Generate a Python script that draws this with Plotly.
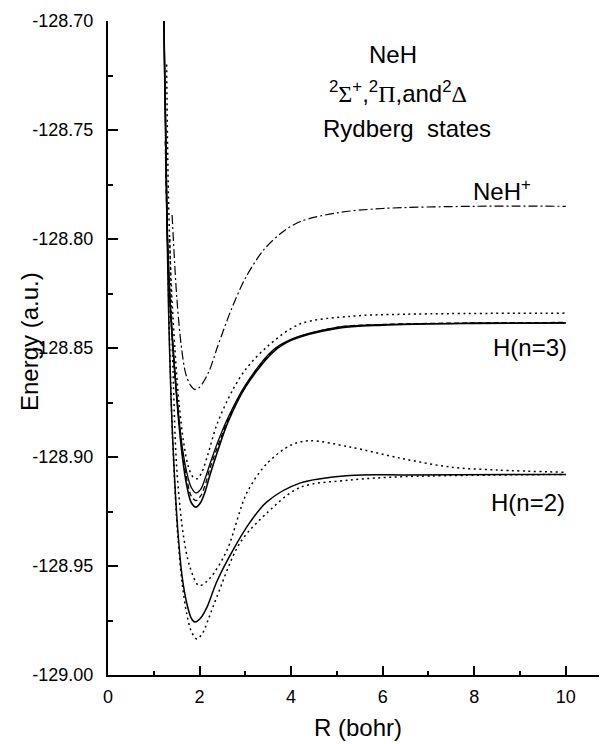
import plotly.graph_objects as go

# ---------------- data ----------------
# NeH+ ion curve (dash-dot)
ion_r = [1.40, 1.50, 1.60, 1.70, 1.80, 1.90, 2.00, 2.20, 2.40, 2.70, 3.00, 3.40, 3.80, 4.20, 5.00, 6.00, 8.00, 10.00]
ion_e = [-128.789, -128.826, -128.849, -128.862, -128.867, -128.869, -128.868, -128.861, -128.849, -128.832,
         -128.818, -128.805, -128.797, -128.792, -128.788, -128.786, -128.785, -128.785]

# States going to H(n=3)
n3_r = [1.22, 1.26, 1.30, 1.36, 1.44, 1.53, 1.62, 1.72, 1.82, 1.92, 2.02, 2.12, 2.23, 2.40, 2.62,
        3.00, 3.60, 4.00, 5.00, 6.00, 8.00, 10.00]
n3_solid_a = [-128.700, -128.750, -128.800, -128.830, -128.856, -128.880, -128.899, -128.913, -128.921, -128.923,
              -128.921, -128.916, -128.908, -128.897, -128.884, -128.868, -128.852, -128.8465,
              -128.841, -128.8395, -128.8387, -128.8385]
n3_solid_b = [-128.700, -128.750, -128.800, -128.830, -128.855, -128.878, -128.895, -128.907, -128.914, -128.9165,
              -128.915, -128.910, -128.903, -128.893, -128.882, -128.867, -128.851, -128.846,
              -128.8405, -128.8393, -128.8386, -128.8385]
n3_dash_r = [1.25, 1.28, 1.31, 1.36, 1.44, 1.53, 1.62, 1.72, 1.82, 1.92, 2.02, 2.12, 2.23, 2.40, 2.62,
             3.00, 3.60, 4.00, 5.00, 6.00, 8.00, 10.00]
n3_dash_e = [-128.755, -128.785, -128.808, -128.832, -128.856, -128.879, -128.897, -128.910, -128.918, -128.920,
             -128.918, -128.913, -128.905, -128.895, -128.883, -128.8675, -128.8515, -128.8462,
             -128.8405, -128.8392, -128.8385, -128.8383]
n3_dot_r = [1.28, 1.32, 1.38, 1.46, 1.55, 1.65, 1.75, 1.85, 1.95, 2.05, 2.18, 2.38, 2.73, 3.00, 3.47,
            4.19, 5.28, 6.50, 10.00]
n3_dot_e = [-128.720, -128.780, -128.820, -128.850, -128.875, -128.893, -128.904, -128.909, -128.910, -128.907,
            -128.899, -128.885, -128.869, -128.860, -128.8495, -128.839, -128.8355, -128.8345, -128.834]

# States going to H(n=2)
n2_solid_r = [1.22, 1.27, 1.32, 1.38, 1.46, 1.53, 1.62, 1.72, 1.82, 1.90, 2.02, 2.16, 2.38, 2.73, 3.10,
              3.47, 4.19, 5.28, 6.50, 10.00]
n2_solid_e = [-128.700, -128.770, -128.830, -128.875, -128.912, -128.935, -128.955, -128.967, -128.974,
              -128.9757, -128.974, -128.969, -128.957, -128.9427, -128.930, -128.9206, -128.912, -128.9085,
              -128.9082, -128.908]
n2_dot_low_r = [1.30, 1.36, 1.44, 1.52, 1.62, 1.72, 1.82, 1.94, 2.06, 2.20, 2.38, 2.88, 3.47, 4.19, 5.28,
                6.50, 10.00]
n2_dot_low_e = [-128.800, -128.860, -128.905, -128.935, -128.958, -128.972, -128.980, -128.9835, -128.981,
                -128.974, -128.964, -128.9395, -128.9257, -128.914, -128.9106, -128.909, -128.908]
n2_dot_up_r = [1.35, 1.42, 1.50, 1.64, 1.79, 1.99, 2.23, 2.60, 3.03, 3.47, 4.00, 4.40, 5.28,
               6.38, 7.47, 8.50, 10.00]
n2_dot_up_e = [-128.800, -128.860, -128.9046, -128.935, -128.9505, -128.959, -128.9555, -128.9427, -128.9165,
               -128.903, -128.8945, -128.8925, -128.8954, -128.9005, -128.9046, -128.906, -128.907]

# axis ticks
x_ticks = [0, 2, 4, 6, 8, 10]
x_minor = [1, 3, 5, 7, 9]
y_ticks = [-129.00, -128.95, -128.90, -128.85, -128.80, -128.75, -128.70]
y_tick_text = ["-129.00", "-128.95", "-128.90", "-128.85", "-128.80", "-128.75", "-128.70"]
y_minor = [-128.975, -128.925, -128.875, -128.825, -128.775, -128.725]

# ---------------- figure ----------------
FONT = "Arial, Liberation Sans, Helvetica, sans-serif"
DOT = "2px,3.5px"
DASH = "5px,3px"
DASHDOT = "9px,3px,2px,3px"

fig = go.Figure()

def add(x, y, dash, width=1.4):
    fig.add_trace(go.Scatter(x=x, y=y, mode="lines", line=dict(color="black", width=width, dash=dash,
                                                                  shape="spline", smoothing=0.9),
                             showlegend=False, hoverinfo="skip"))

add(ion_r, ion_e, DASHDOT, 1.2)
add(n3_dot_r, n3_dot_e, DOT, 1.5)
add(n3_r, n3_solid_b, "solid", 1.3)
add(n3_dash_r, n3_dash_e, DASH, 1.3)
add(n3_r, n3_solid_a, "solid", 1.6)
add(n2_dot_up_r, n2_dot_up_e, DOT, 1.5)
add(n2_dot_low_r, n2_dot_low_e, DOT, 1.5)
add(n2_solid_r, n2_solid_e, "solid", 1.5)

# page body has an 8px margin: plot area target in page px is x 108..607, y 21..675
fig.update_layout(
    width=599, height=736,
    margin=dict(l=100, r=0, t=13, b=69),
    paper_bgcolor="white", plot_bgcolor="white",
    font=dict(family=FONT, color="black", size=18),
    xaxis=dict(range=[0, 10.9], tickmode="array", tickvals=x_ticks, ticks="inside", ticklen=9, tickwidth=1.6,
               tickcolor="black", showline=True, linecolor="black", linewidth=2, showgrid=False, zeroline=False,
               tickfont=dict(size=18), ticklabelstandoff=4,
               minor=dict(tickmode="array", tickvals=x_minor, ticks="inside", ticklen=4, tickwidth=1.6,
                          tickcolor="black", showgrid=False)),
    yaxis=dict(range=[-129.0, -128.70], tickmode="array", tickvals=y_ticks, ticktext=y_tick_text,
               ticks="inside", ticklen=10, tickwidth=1.6, tickcolor="black", showline=True, linecolor="black",
               linewidth=2, showgrid=False, zeroline=False, tickfont=dict(size=18), ticklabelstandoff=9,
               minor=dict(tickmode="array", tickvals=y_minor, ticks="inside", ticklen=5, tickwidth=1.6,
                          tickcolor="black", showgrid=False)),
)

def px(xp, yp):
    return (xp - 108) / 499, (675 - yp) / 654

serif = "font-family:'Liberation Serif','Times New Roman',serif"
labels = [
    (393, 55, "NeH"),
    (398, 92, "<sup>2</sup><span style=\"" + serif + "\">Σ</span><sup>+</sup>,<sup>2</sup>"
              "<span style=\"" + serif + "\">Π</span>,and<sup>2</sup>"
              "<span style=\"" + serif + "\">Δ</span>"),
    (407, 128, "Rydberg  states"),
    (502, 190, "NeH<sup>+</sup>"),
    (530, 347, "H(n=3)"),
    (528, 502, "H(n=2)"),
    (358, 727, "R (bohr)"),
]
for xp, yp, t in labels:
    ax, ay = px(xp, yp)
    fig.add_annotation(x=ax, y=ay, xref="paper", yref="paper", text=t, showarrow=False,
                       font=dict(size=24), xanchor="center", yanchor="middle")
ax, ay = px(29, 342)
fig.add_annotation(x=ax, y=ay, xref="paper", yref="paper", text="Energy (a.u.)", textangle=-90,
                   showarrow=False, font=dict(size=24), xanchor="center", yanchor="middle")

fig.write_html("out.html")
